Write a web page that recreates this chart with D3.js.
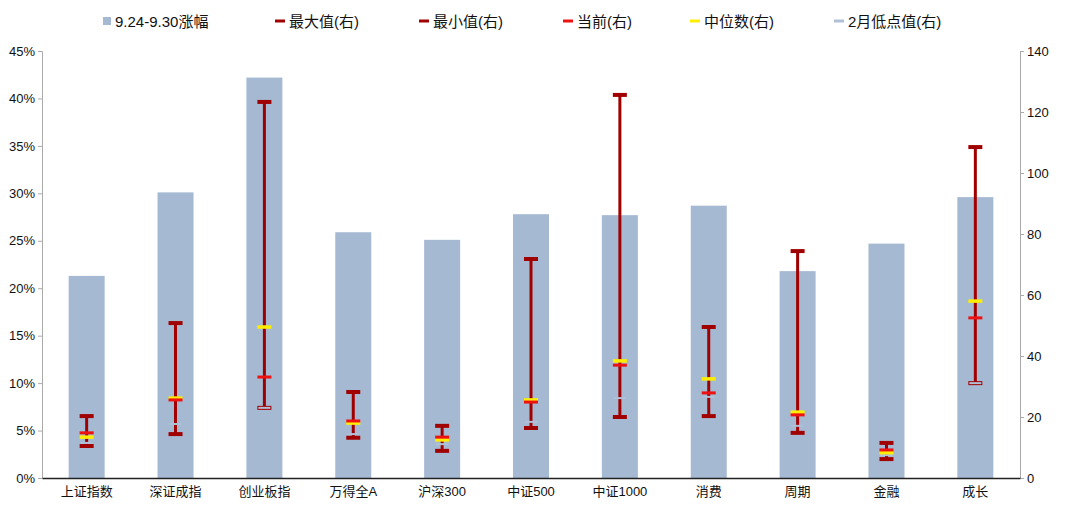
<!DOCTYPE html>
<html><head><meta charset="utf-8">
<script src="https://cdn.jsdelivr.net/npm/d3@7"></script>
<style>
body{margin:0;background:#fff;}
text{font-family:"Liberation Sans","Noto Sans CJK SC",sans-serif;}
</style></head>
<body><div id="chart"></div>
<script>
var categories = ["上证指数","深证成指","创业板指","万得全A","沪深300","中证500","中证1000","消费","周期","金融","成长"];
var rise = [21.3,30.1,42.2,25.9,25.1,27.8,27.7,28.7,21.8,24.7,29.6];
var maxVal = [20.3,50.8,123.3,28.2,17.1,71.8,125.6,49.5,74.4,11.5,108.5];
var minVal = [10.5,14.4,23.0,13.2,8.9,16.4,20.0,20.3,14.8,6.2,31.1];
var current = [14.8,25.6,33.1,18.7,13.4,24.9,37.0,27.9,20.7,9.2,52.5];
var median = [13.4,26.2,49.5,18.0,12.5,25.6,38.4,32.5,21.6,8.3,58.0];
var febLow = [11.5,17.7,23.0,14.4,11.1,18.4,26.2,26.6,17.1,7.5,31.1];
var leftTicks = [0,5,10,15,20,25,30,35,40,45];
var rightTicks = [0,20,40,60,80,100,120,140];

var svgWidth = 1080, svgHeight = 517;
var margin = {top: 51, right: 60, bottom: 39, left: 42};
var width = svgWidth - margin.left - margin.right;
var height = svgHeight - margin.top - margin.bottom;

var svg = d3.select("#chart").append("svg")
  .attr("width", svgWidth).attr("height", svgHeight);
var g = svg.append("g").attr("transform", `translate(${margin.left},${margin.top})`);

var x = d3.scaleBand().domain(categories).range([0, width]).paddingInner(0.595).paddingOuter(0.3);
var yL = d3.scaleLinear().domain([0, 45]).range([height, 0]);
var yR = d3.scaleLinear().domain([0, 140]).range([height, 0]);

// bars
g.selectAll(".bar").data(categories).enter().append("rect")
  .attr("x", d => x(d)).attr("width", x.bandwidth())
  .attr("y", (d, i) => yL(rise[i])).attr("height", (d, i) => height - yL(rise[i]))
  .attr("fill", "#a5b9d2");

// axes
var leftAxis = d3.axisLeft(yL).tickValues(leftTicks).tickFormat(d => d + "%").tickSize(4);
var rightAxis = d3.axisRight(yR).tickValues(rightTicks).tickSize(4);
var la = g.append("g").call(leftAxis);
var ra = g.append("g").attr("transform", `translate(${width},0)`).call(rightAxis);
[la, ra].forEach(a => {
  a.select(".domain").attr("stroke", "#aaa");
  a.selectAll(".tick line").attr("stroke", "#aaa");
  a.selectAll("text").attr("font-size", 13).attr("fill", "#111");
});
var xa = g.append("g").attr("transform", `translate(0,${height})`)
  .call(d3.axisBottom(x).tickSize(0).tickPadding(9));
xa.select(".domain").attr("stroke", "#222").attr("stroke-width", 1.5);
xa.selectAll("text").attr("font-size", 13).attr("fill", "#111");

// error bars
var cx = d => x(d) + x.bandwidth() / 2;
var eb = g.selectAll(".eb").data(categories).enter().append("g");
eb.append("line").attr("x1", cx).attr("x2", cx)
  .attr("y1", (d, i) => yR(maxVal[i])).attr("y2", (d, i) => yR(minVal[i]))
  .attr("stroke", "#a00000").attr("stroke-width", 3);
function mark(arr, color, w, sw) {
  eb.append("line")
    .attr("x1", d => cx(d) - w / 2).attr("x2", d => cx(d) + w / 2)
    .attr("y1", (d, i) => yR(arr[i])).attr("y2", (d, i) => yR(arr[i]))
    .attr("stroke", color).attr("stroke-width", sw);
}
mark(maxVal, "#a00000", 14, 4);
mark(minVal, "#a00000", 14, 4);
mark(febLow, "#b0c0d8", 12, 2);
mark(median, "#ffee00", 14, 3.5);
mark(current, "#ee1111", 14, 3);

// legend
var legend = [
  {t: "9.24-9.30涨幅", c: "#a5b9d2", x: 103, sq: true},
  {t: "最大值(右)", c: "#a00000", x: 275},
  {t: "最小值(右)", c: "#a00000", x: 419},
  {t: "当前(右)", c: "#ee1111", x: 563},
  {t: "中位数(右)", c: "#ffee00", x: 690},
  {t: "2月低点值(右)", c: "#b0c0d8", x: 834}
];
var lg = svg.selectAll(".lg").data(legend).enter().append("g");
lg.filter(d => d.sq).append("rect").attr("x", d => d.x).attr("y", 17).attr("width", 8).attr("height", 8).attr("fill", d => d.c);
lg.filter(d => !d.sq).append("line").attr("x1", d => d.x).attr("x2", d => d.x + 10)
  .attr("y1", 21).attr("y2", 21).attr("stroke", d => d.c).attr("stroke-width", 3);
lg.append("text").attr("x", d => d.x + (d.sq ? 12 : 14)).attr("y", 27)
  .attr("font-size", 15).attr("fill", "#111").text(d => d.t);
</script></body></html>
